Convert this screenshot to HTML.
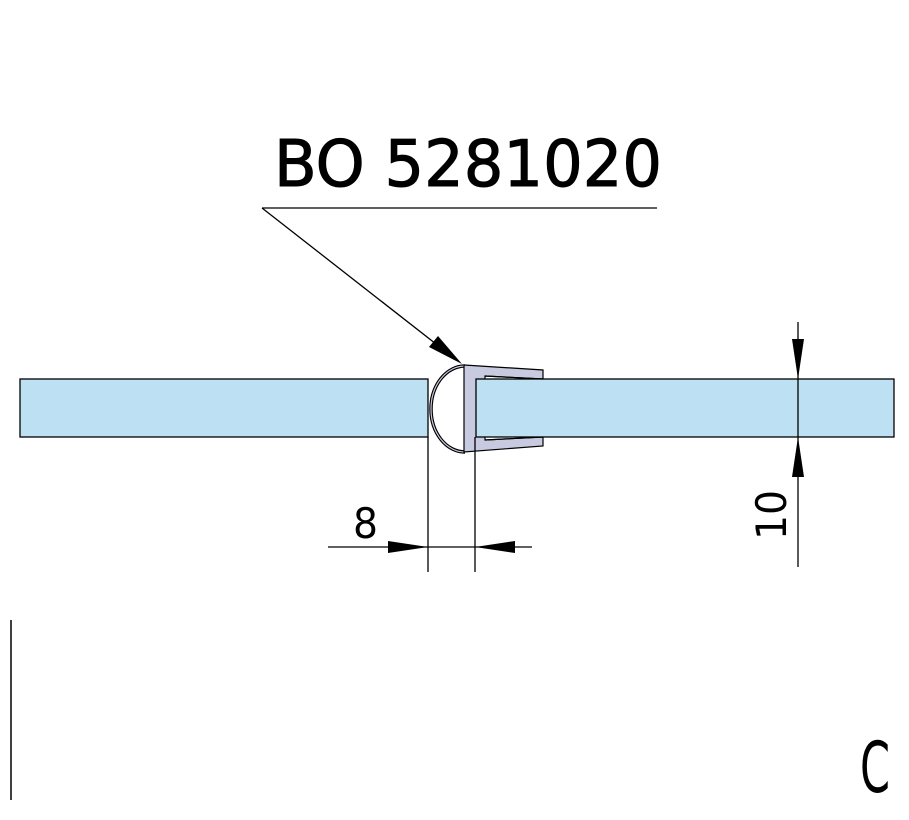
<!DOCTYPE html>
<html><head><style>body{margin:0;background:#fff}svg{display:block}</style></head><body>
<svg width="909" height="820" viewBox="0 0 909 820" xmlns="http://www.w3.org/2000/svg">
<rect width="909" height="820" fill="#fff"/>
<text x="274" y="186" font-family="DejaVu Sans, Liberation Sans, sans-serif" font-size="64" textLength="388" lengthAdjust="spacingAndGlyphs" fill="#000" stroke="#000" stroke-width="1">BO 5281020</text>
<line x1="262" y1="208" x2="657" y2="208" stroke="#000" stroke-width="1.3"/>
<line x1="262" y1="208" x2="445" y2="351" stroke="#000" stroke-width="1.3"/>
<polygon points="462,364 429,347 438,336" fill="#000"/>
<rect x="20" y="379" width="408" height="58" fill="#bde0f3" stroke="#000" stroke-width="1.3"/>
<path d="M465,366 A34,43 0 0 0 465,452" fill="#fff" stroke="#000" stroke-width="3.5"/>
<path d="M465,366 A34,43 0 0 0 465,452" fill="none" stroke="#c8cbe0" stroke-width="1.2"/>
<path d="M464,365 L543,370 L543,379 L485,376 L485,384 L477,384 L477,432 L485,432 L485,440 L543,437 L543,446 L464,452 Z" fill="#c8cbe0" stroke="#000" stroke-width="1.2"/>
<rect x="476" y="379" width="418" height="58" fill="#bde0f3" stroke="#000" stroke-width="1.3"/>
<path d="M485,376 L543,379 M485,440 L543,437" stroke="#000" stroke-width="1.2"/>
<line x1="428" y1="437" x2="428" y2="572" stroke="#000" stroke-width="1.3"/>
<line x1="475" y1="437" x2="475" y2="572" stroke="#000" stroke-width="1.3"/>
<line x1="328" y1="547" x2="532" y2="547" stroke="#000" stroke-width="1.3"/>
<polygon points="428,547 388,541 388,553" fill="#000"/>
<polygon points="475,547 515,541 515,553" fill="#000"/>
<text x="353" y="538" font-family="DejaVu Sans, Liberation Sans, sans-serif" font-size="42" textLength="25" lengthAdjust="spacingAndGlyphs" fill="#000">8</text>
<line x1="798" y1="322" x2="798" y2="567" stroke="#000" stroke-width="1.3"/>
<polygon points="798,379 792,339 804,339" fill="#000"/>
<polygon points="798,437 792,477 804,477" fill="#000"/>
<text transform="translate(786,540) rotate(-90)" font-family="DejaVu Sans, Liberation Sans, sans-serif" font-size="42" textLength="50" lengthAdjust="spacingAndGlyphs" fill="#000">10</text>
<line x1="11" y1="620" x2="11" y2="800" stroke="#000" stroke-width="1.5"/>
<text x="860" y="792" font-family="DejaVu Sans, Liberation Sans, sans-serif" font-size="70" textLength="30" lengthAdjust="spacingAndGlyphs" fill="#000">C</text>
</svg>
</body></html>
